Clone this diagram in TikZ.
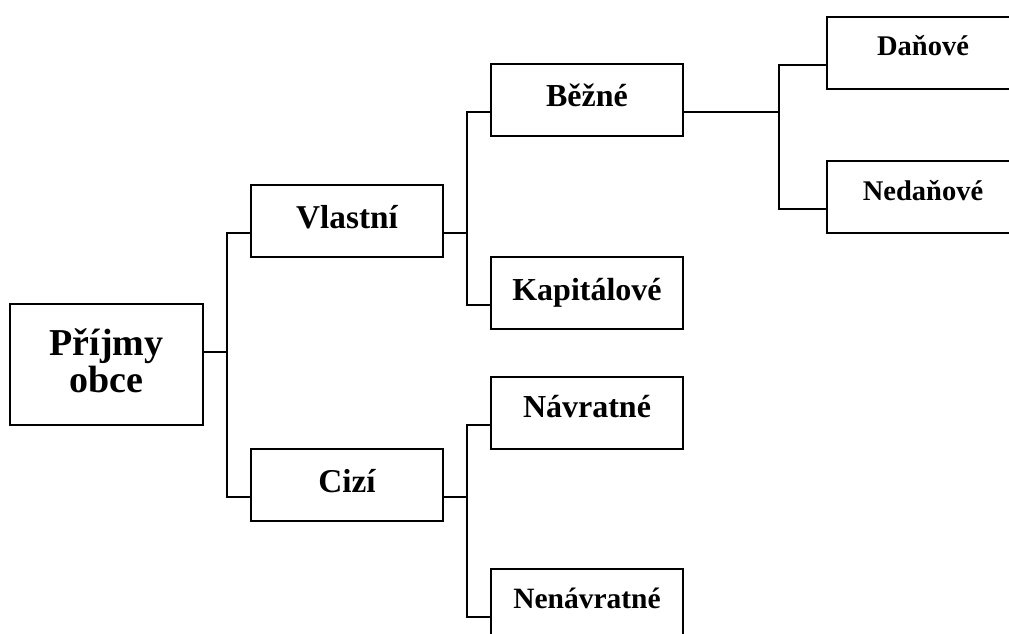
\documentclass[tikz,border=0pt]{standalone}
\usepackage{fontspec}
\setmainfont{Liberation Serif}
\tikzset{
  box/.style={draw, line width=2pt, rectangle, inner sep=0pt, outer sep=0pt, minimum width=192pt, anchor=north west},
  conn/.style={line width=2pt},
  ftwo/.style={font=\bfseries\fontsize{33.3}{40}\selectfont},
  fthree/.style={font=\bfseries\fontsize{32}{38}\selectfont},
  ffour/.style={font=\bfseries\fontsize{28.5}{34}\selectfont},
}
\begin{document}
\begin{tikzpicture}[x=1pt,y=-1pt]
\useasboundingbox (0,0) rectangle (1009,633);
% boxes
\node[box, minimum width=193pt, align=center, font=\bfseries\fontsize{38}{37}\selectfont] (P) at (10,304)
  {\rule{0pt}{51pt}Příjmy\\obce\rule[-33pt]{0pt}{33pt}};
\node[box, ftwo, text height=43pt, text depth=29pt] (V) at (251,185) {Vlastní};
\node[box, ftwo, text height=43pt, text depth=29pt] (C) at (251,449) {Cizí};
\node[box, fthree, text height=42pt, text depth=30pt] (B) at (491,64) {Běžné};
\node[box, fthree, text height=43pt, text depth=29pt] (K) at (491,257) {Kapitálové};
\node[box, fthree, text height=40pt, text depth=32pt] (N) at (491,377) {Návratné};
\node[box, font=\bfseries\fontsize{29.5}{35}\selectfont, text height=39pt, text depth=33pt] (NN) at (491,569) {Nenávratné};
\node[box, ffour, text height=38pt, text depth=34pt] (D) at (827,17) {Daňové};
\node[box, ffour, text height=39pt, text depth=33pt] (ND) at (827,161) {Nedaňové};
% connectors
\draw[conn] ([yshift=-48pt]P.north east) -- ++(24,0);
\draw[conn] ([yshift=-48pt]V.north west) -| ([xshift=-24pt,yshift=-48pt]C.north west) -- ([yshift=-48pt]C.north west);
\draw[conn] ([yshift=-48pt]V.north east) -- ++(24,0);
\draw[conn] ([yshift=-48pt]B.north west) -| ([xshift=-24pt,yshift=-48pt]K.north west) -- ([yshift=-48pt]K.north west);
\draw[conn] ([yshift=-48pt]C.north east) -- ++(24,0);
\draw[conn] ([yshift=-48pt]N.north west) -| ([xshift=-24pt,yshift=-48pt]NN.north west) -- ([yshift=-48pt]NN.north west);
\draw[conn] ([yshift=-48pt]B.north east) -- ++(96,0);
\draw[conn] ([yshift=-48pt]D.north west) -| ([xshift=-48pt,yshift=-48pt]ND.north west) -- ([yshift=-48pt]ND.north west);
\end{tikzpicture}
\end{document}
